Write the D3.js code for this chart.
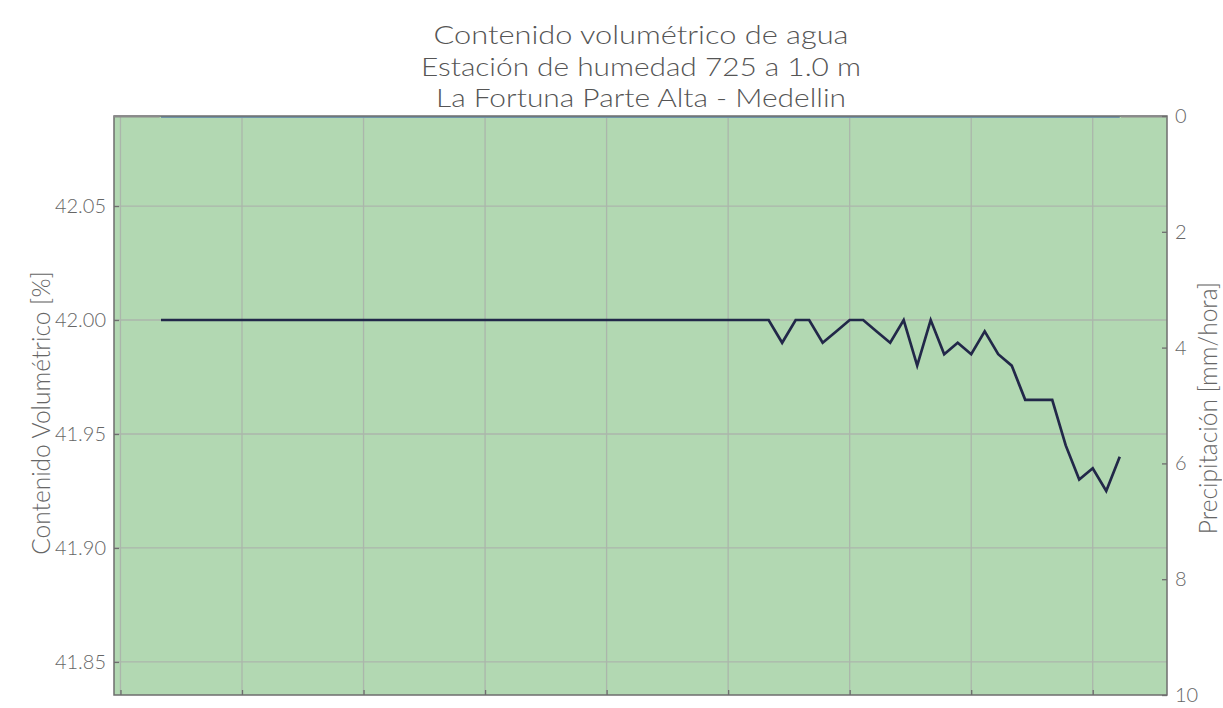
<!DOCTYPE html>
<html>
<head>
<meta charset="utf-8">
<script src="https://cdn.jsdelivr.net/npm/d3@7"></script>
<style>
  html, body { margin: 0; padding: 0; background: #ffffff; }
  svg { display: block; }
  text { font-family: Lato, "Open Sans", sans-serif; }
  .txt { opacity: 0.995; }
</style>
</head>
<body>
<svg id="chart" width="1223" height="708"></svg>
<script>
// Hourly series (hour index from start of record)
const hours = d3.range(0, 72);
const vwc = [
  42.00, 42.00, 42.00, 42.00, 42.00, 42.00, 42.00, 42.00, 42.00, 42.00,
  42.00, 42.00, 42.00, 42.00, 42.00, 42.00, 42.00, 42.00, 42.00, 42.00,
  42.00, 42.00, 42.00, 42.00, 42.00, 42.00, 42.00, 42.00, 42.00, 42.00,
  42.00, 42.00, 42.00, 42.00, 42.00, 42.00, 42.00, 42.00, 42.00, 42.00,
  42.00, 42.00, 42.00, 42.00, 42.00, 42.00, 41.99, 42.00, 42.00, 41.99,
  41.995, 42.00, 42.00, 41.995, 41.99, 42.00, 41.98, 42.00, 41.985, 41.99,
  41.985, 41.995, 41.985, 41.98, 41.965, 41.965, 41.965, 41.945, 41.93, 41.935,
  41.925, 41.94
];
const precip = hours.map(() => 0);

const titleLines = [
  "Contenido volumétrico de agua",
  "Estación de humedad 725 a 1.0 m",
  "La Fortuna Parte Alta - Medellin"
];
const leftTicks = [41.85, 41.90, 41.95, 42.00, 42.05];
const rightTicks = [0, 2, 4, 6, 8, 10];
const xTicks = d3.range(-3, 72, 9);
const leftLabel = "Contenido Volumétrico [%]";
const rightLabel = "Precipitación [mm/hora]";

const margin = { top: 116, right: 56, bottom: 13, left: 114 };
const W = 1223, H = 708;
const iw = W - margin.left - margin.right;
const ih = H - margin.top - margin.bottom;

const svg = d3.select("#chart");
const g = svg.append("g").attr("transform", `translate(${margin.left},${margin.top})`);

const x = d3.scaleLinear().domain([-3.48, 74.5]).range([0, iw]);
const yL = d3.scaleLinear().domain([41.8355, 42.0895]).range([ih, 0]);
const yR = d3.scaleLinear().domain([0, 10]).range([0, ih]);

// plot background
g.append("rect").attr("width", iw).attr("height", ih).attr("fill", "#b2d8b2");

// grid
const grid = g.append("g").attr("stroke", "#abb6ab").attr("stroke-width", 1.3);
grid.selectAll("line.v").data(xTicks).join("line")
  .attr("x1", d => x(d)).attr("x2", d => x(d)).attr("y1", 0).attr("y2", ih);
grid.selectAll("line.h").data(leftTicks).join("line")
  .attr("x1", 0).attr("x2", iw).attr("y1", d => yL(d)).attr("y2", d => yL(d));

// precipitation (all zero) along the top
g.append("path")
  .datum(hours.map((h, i) => [h, precip[i]]))
  .attr("fill", "none")
  .attr("stroke", "#6f94a8")
  .attr("stroke-width", 2)
  .attr("d", d3.line().x(d => x(d[0])).y(d => yR(d[1]) + 1));

// soil water content line
g.append("path")
  .datum(hours.map((h, i) => [h, vwc[i]]))
  .attr("fill", "none")
  .attr("stroke", "#222849")
  .attr("stroke-width", 2.7)
  .attr("stroke-linejoin", "miter")
  .attr("d", d3.line().x(d => x(d[0])).y(d => yL(d[1])));

// frame
g.append("rect").attr("width", iw).attr("height", ih)
  .attr("fill", "none").attr("stroke", "#6e6e6e").attr("stroke-width", 1.5);
g.append("line").attr("x1", 0).attr("x2", x(-0.1)).attr("y1", 0.5).attr("y2", 0.5)
  .attr("stroke", "#8a8a8a").attr("stroke-width", 2);
g.append("line").attr("x1", x(71.1)).attr("x2", iw).attr("y1", 0.5).attr("y2", 0.5)
  .attr("stroke", "#8a8a8a").attr("stroke-width", 2);

// axes
const tickColor = "#6e6e6e";
const labelColor = "#666666";

const axL = g.append("g").attr("class", "txt").call(
  d3.axisLeft(yL).tickValues(leftTicks).tickFormat(d3.format(".2f")).tickSize(-5).tickPadding(8)
);
const axR = g.append("g").attr("class", "txt").attr("transform", `translate(${iw},0)`).call(
  d3.axisRight(yR).tickValues(rightTicks).tickFormat(d3.format("d")).tickSize(-5).tickPadding(8)
);
const axB = g.append("g").attr("transform", `translate(0,${ih})`).call(
  d3.axisBottom(x).tickValues(xTicks).tickFormat("").tickSize(-5)
);
[axL, axR, axB].forEach(a => {
  a.attr("color", labelColor);
  a.select(".domain").remove();
  a.selectAll(".tick line").attr("stroke", tickColor).attr("stroke-width", 1.3);
  a.selectAll(".tick text").style("fill", labelColor).style("font-size", "20px")
    .style("font-family", "Lato, sans-serif").style("font-weight", 300);
});

// axis titles
svg.append("text")
  .attr("class", "txt")
  .attr("transform", `translate(50,413) rotate(-90)`)
  .attr("text-anchor", "middle")
  .style("fill", labelColor)
  .style("font-size", "24.5px").style("font-weight", 300)
  .text(leftLabel);
svg.append("text")
  .attr("class", "txt")
  .attr("transform", `translate(1217,408) rotate(-90)`)
  .attr("text-anchor", "middle")
  .style("fill", labelColor)
  .style("font-size", "24.5px").style("font-weight", 300)
  .text(rightLabel);

// title, three centred lines
const titleWidths = [415, 440, 410];
svg.append("g").attr("class", "txt").selectAll("text").data(titleLines).join("text")
  .attr("x", 641)
  .attr("y", (d, i) => 44 + i * 31.5)
  .attr("text-anchor", "middle")
  .attr("textLength", (d, i) => titleWidths[i])
  .attr("lengthAdjust", "spacingAndGlyphs")
  .style("fill", "#555555")
  .style("font-size", "26px").style("font-weight", 300)
  .text(d => d);
</script>
</body>
</html>
